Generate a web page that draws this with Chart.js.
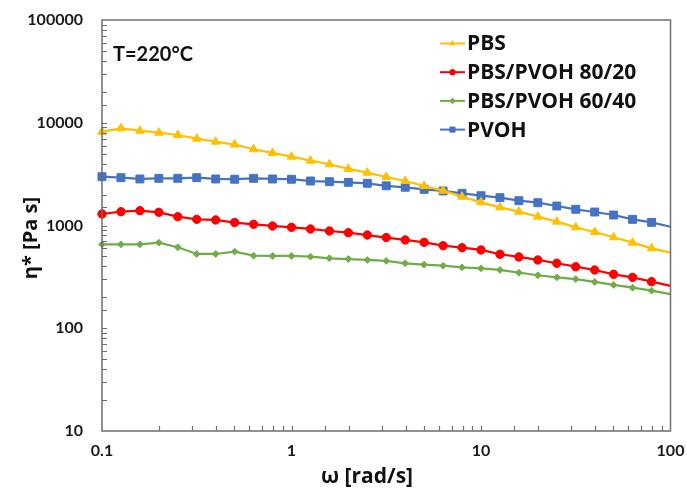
<!DOCTYPE html>
<html>
<head>
<meta charset="utf-8">
<script src="https://cdn.jsdelivr.net/npm/chart.js@4.4.1/dist/chart.umd.min.js"></script>
<style>
    html, body { margin: 0; padding: 0; background: #fff; }
    #wrap { width: 687px; height: 490px; }
</style>
</head>
<body>
<div id="wrap"><canvas id="viscChart" width="687" height="490"></canvas></div>
<script>
// Data
const omega = [0.1, 0.1259, 0.1585, 0.1995, 0.2512, 0.3162, 0.3981, 0.5012, 0.631, 0.7943,
    1, 1.259, 1.585, 1.995, 2.512, 3.162, 3.981, 5.012, 6.31, 7.943,
    10, 12.59, 15.85, 19.95, 25.12, 31.62, 39.81, 50.12, 63.1, 79.43, 100];

const pbs = [8185, 8830, 8370, 8000, 7600, 7000, 6540, 6140, 5520, 5080,
    4675, 4275, 3945, 3550, 3265, 2965, 2710, 2423, 2182, 1907,
    1682, 1504, 1363, 1218, 1089, 960, 865, 768, 681, 600, 544];
const blend8020 = [1294, 1363, 1393, 1344, 1218, 1148, 1132, 1069, 1028, 989,
    960, 925, 884, 851, 808, 764, 723, 686, 636, 608,
    578, 525, 494, 462, 429, 397, 369, 335, 313, 284, 258];
const blend6040 = [656, 656, 656, 681, 614, 528, 528, 558, 508, 505,
    505, 497, 480, 472, 462, 452, 429, 416, 406, 392,
    383, 369, 347, 328, 313, 301, 282, 264, 248, 232, 215];
const pvoh = [2985, 2920, 2836, 2878, 2878, 2920, 2836, 2820, 2878, 2836,
    2820, 2710, 2670, 2632, 2575, 2434, 2355, 2250, 2167, 2057,
    1950, 1865, 1743, 1667, 1548, 1438, 1353, 1265, 1148, 1074, 973];

const seriesNames = ['PBS', 'PBS/PVOH 80/20', 'PBS/PVOH 60/40', 'PVOH'];
const xTickLabels = [0.1, 1, 10, 100];
const yTickLabels = [10, 100, 1000, 10000, 100000];
const xTitle = 'ω [rad/s]';
const yTitle = 'η* [Pa s]';
const note = 'T=220°C';

const FONT = 'Lato, "Open Sans", sans-serif';
const WIDE = '"Open Sans", Lato, sans-serif';

function series(name, values, color, style, radius) {
    const last = values.length - 1;
    return {
        label: name,
        data: values.map((v, i) => ({ x: omega[i], y: v })),
        borderColor: color,
        backgroundColor: color,
        borderWidth: 2.25,
        pointStyle: style,
        pointRadius: (c) => (c.dataIndex === last ? 0 : radius),
        pointBorderWidth: 1,
        pointBackgroundColor: color,
        pointBorderColor: color,
        tension: 0,
        clip: false,
    };
}

const datasets = [
    series(seriesNames[0], pbs, '#FFC000', 'triangle', 5),
    series(seriesNames[1], blend8020, '#FF0000', 'circle', 4.2),
    series(seriesNames[2], blend6040, '#70AD47', 'rectRot', 3.4),
    series(seriesNames[3], pvoh, '#4472C4', 'rect', 5.6),
];

function isLabelTick(v, list) {
    return list.some((t) => Math.abs(v - t) / t < 1e-6);
}

// Frame, inward ticks, titles, legend and note
const decorPlugin = {
    id: 'decor',
    afterDraw(chart) {
        const ctx = chart.ctx;
        const a = chart.chartArea;
        const xs = chart.scales.x, ys = chart.scales.y;
        ctx.save();

        // inward ticks
        ctx.strokeStyle = '#6e6e6e';
        ctx.lineWidth = 1.2;
        ctx.beginPath();
        ys.ticks.forEach((t) => {
            const py = Math.round(ys.getPixelForValue(t.value)) + 0.5;
            if (py <= a.top + 1 || py >= a.bottom - 1) return;
            ctx.moveTo(a.left, py);
            ctx.lineTo(a.left + 5, py);
        });
        xs.ticks.forEach((t) => {
            const px = Math.round(xs.getPixelForValue(t.value)) + 0.5;
            if (px <= a.left + 1 || px >= a.right - 1) return;
            ctx.moveTo(px, a.bottom);
            ctx.lineTo(px, a.bottom - 5);
        });
        ctx.stroke();

        // frame
        ctx.strokeStyle = '#6e6e6e';
        ctx.lineWidth = 1.5;
        ctx.strokeRect(a.left, a.top, a.right - a.left, a.bottom - a.top);

        // axis titles
        ctx.fillStyle = '#111';
        ctx.textAlign = 'center';
        ctx.textBaseline = 'middle';
        ctx.font = 'bold 21px ' + WIDE;
        ctx.fillText(xTitle, 367, 477);
        ctx.save();
        ctx.translate(31, 238);
        ctx.rotate(-Math.PI / 2);
        ctx.font = 'bold 20px ' + WIDE;
        ctx.fillText(yTitle, 0, 0);
        ctx.restore();

        // legend
        const lx = 440, ly = 43.5, gap = 28.7;
        chart.data.datasets.forEach((ds, i) => {
            const y = ly + i * gap;
            ctx.strokeStyle = ds.borderColor;
            ctx.lineWidth = 2;
            ctx.beginPath();
            ctx.moveTo(lx, y);
            ctx.lineTo(lx + 25, y);
            ctx.stroke();
            ctx.fillStyle = ds.borderColor;
            ctx.lineWidth = 1;
            if (Chart.helpers && Chart.helpers.drawPoint) {
                Chart.helpers.drawPoint(ctx, {
                    pointStyle: ds.pointStyle,
                    radius: ds.pointStyle === 'rect' ? 3.6 : 2.8,
                    rotation: 0,
                    borderWidth: 1,
                }, lx + 12.5, y);
            }
            ctx.fillStyle = '#111';
            ctx.font = 'bold 21px ' + WIDE;
            ctx.textAlign = 'left';
            ctx.textBaseline = 'middle';
            ctx.fillText(ds.label, lx + 27, y + 1);
        });

        // temperature note
        ctx.fillStyle = '#111';
        ctx.font = 'bold 20px ' + FONT;
        ctx.textAlign = 'left';
        ctx.textBaseline = 'middle';
        ctx.fillText(note, 113, 55);

        ctx.restore();
    },
};

new Chart(document.getElementById('viscChart'), {
    type: 'line',
    data: { datasets },
    options: {
        responsive: false,
        animation: false,
        layout: { padding: { top: 20, right: 16.5, left: 0, bottom: 0 } },
        plugins: {
            legend: { display: false },
            tooltip: { enabled: false },
        },
        scales: {
            x: {
                type: 'logarithmic',
                min: 0.1,
                max: 100,
                grid: { display: false, drawTicks: false },
                border: { display: false },
                afterFit: (s) => {
                    s.height = 59;
                    s.paddingLeft = 0;
                    s.paddingRight = 0;
                },
                ticks: {
                    autoSkip: false,
                    maxRotation: 0,
                    padding: 10,
                    color: '#1a1a1a',
                    font: { family: FONT, size: 16, weight: 'bold' },
                    callback: (v) => (isLabelTick(v, xTickLabels) ? String(Number(v.toPrecision(6))) : ''),
                },
            },
            y: {
                type: 'logarithmic',
                min: 10,
                max: 100000,
                grid: { display: false, drawTicks: false },
                border: { display: false },
                afterFit: (s) => {
                    s.width = 102;
                    s.paddingTop = 0;
                    s.paddingBottom = 0;
                },
                ticks: {
                    autoSkip: false,
                    padding: 19,
                    color: '#1a1a1a',
                    font: { family: FONT, size: 16, weight: 'bold' },
                    callback: (v) => (isLabelTick(v, yTickLabels) ? String(Number(v.toPrecision(6))) : ''),
                },
            },
        },
    },
    plugins: [decorPlugin],
});
</script>
</body>
</html>
